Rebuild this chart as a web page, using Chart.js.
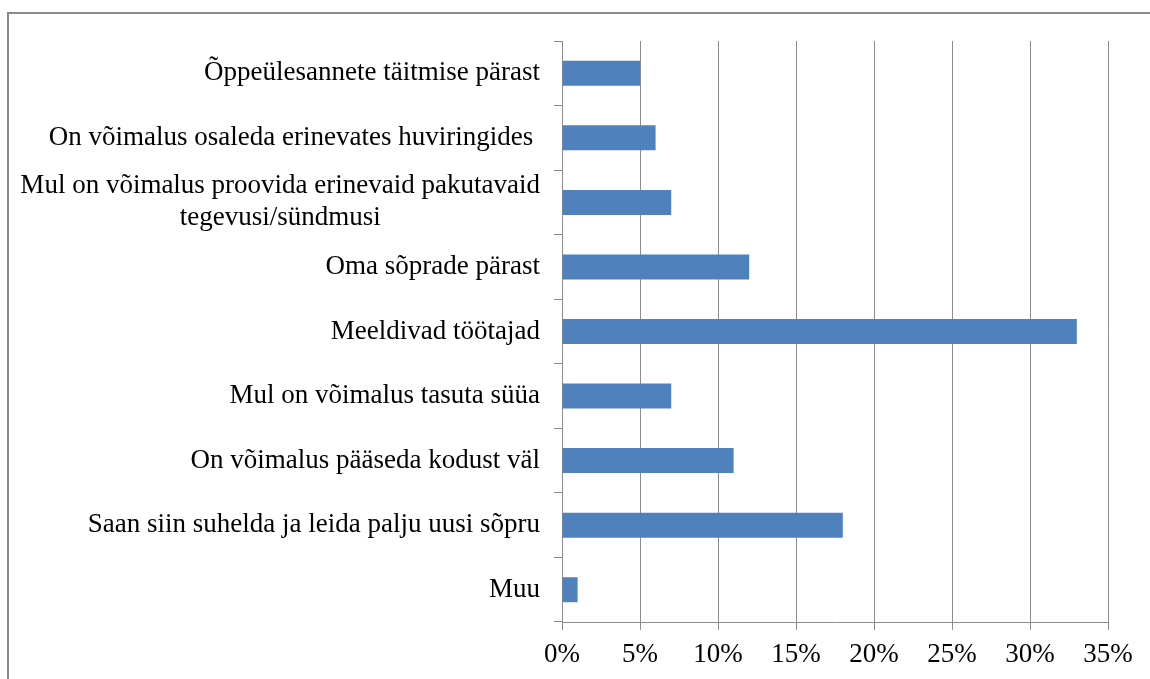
<!DOCTYPE html>
<html>
<head>
<meta charset="utf-8">
<script src="https://cdn.jsdelivr.net/npm/chart.js@4.4.1/dist/chart.umd.min.js"></script>
<style>
  html, body { margin: 0; padding: 0; background: #fff; }
  #wrap { position: relative; width: 1150px; height: 679px; overflow: hidden; }
  #frame { position: absolute; left: 7px; top: 12px; width: 1300px; height: 800px; border: 2px solid #8a8a8a; box-sizing: border-box; pointer-events: none; }
  canvas { position: absolute; left: 0; top: 0; }
</style>
</head>
<body>
<div id="wrap">
  <canvas id="c" width="1150" height="679"></canvas>
  <div id="frame"></div>
</div>
<script>
const categories = [
  "Õppeülesannete täitmise pärast",
  "On võimalus osaleda erinevates huviringides ",
  ["Mul on võimalus proovida erinevaid pakutavaid", "tegevusi/sündmusi"],
  "Oma sõprade pärast",
  "Meeldivad töötajad",
  "Mul on võimalus tasuta süüa",
  "On võimalus pääseda kodust väl",
  "Saan siin suhelda ja leida palju uusi sõpru",
  "Muu"
];
const values = [5, 6, 7, 12, 33, 7, 11, 18, 1];
const xTickValues = [0, 5, 10, 15, 20, 25, 30, 35];

const FONT = '"Liberation Serif", "Times New Roman", serif';
const GRID = '#8c8c8c';

const yLabelPlugin = {
  id: 'yLabels',
  afterDraw(chart) {
    const ctx = chart.ctx;
    const ys = chart.scales.y;
    ctx.save();
    ctx.font = '27px ' + FONT;
    ctx.fillStyle = '#000';
    ctx.textBaseline = 'middle';
    const rightX = ys.right - 22;
    const lh = 32;
    categories.forEach((lab, i) => {
      const lines = Array.isArray(lab) ? lab : [lab];
      const cy = ys.getPixelForTick(i);
      if (lines.length === 1) {
        ctx.textAlign = 'right';
        ctx.fillText(lines[0], rightX, cy);
      } else {
        const maxW = Math.max(...lines.map(l => ctx.measureText(l).width));
        const cx = rightX - maxW / 2;
        ctx.textAlign = 'center';
        lines.forEach((l, j) => {
          ctx.fillText(l, cx, cy + (j - (lines.length - 1) / 2) * lh);
        });
      }
    });
    ctx.restore();
  }
};

new Chart(document.getElementById('c'), {
  type: 'bar',
  data: {
    labels: categories,
    datasets: [{
      data: values,
      backgroundColor: '#4F81BD',
      borderWidth: 0,
      categoryPercentage: 1,
      barPercentage: 0.387
    }]
  },
  options: {
    indexAxis: 'y',
    responsive: false,
    animation: false,
    devicePixelRatio: 1,
    layout: { padding: { top: 41, right: 42, bottom: 0, left: 0 } },
    plugins: { legend: { display: false }, tooltip: { enabled: false } },
    scales: {
      x: {
        min: 0,
        max: 35,
        afterBuildTicks(s) { s.ticks = xTickValues.map(v => ({ value: v })); },
        afterFit(s) { s.height = 57; },
        ticks: {
          callback: v => v + '%',
          color: '#000',
          font: { family: FONT, size: 27 },
          padding: 9,
          maxRotation: 0
        },
        grid: { color: GRID, lineWidth: 1, tickLength: 8, drawTicks: true },
        border: { color: GRID, width: 1 }
      },
      y: {
        afterFit(s) { s.width = 562; },
        ticks: { display: false },
        grid: { drawOnChartArea: false, drawTicks: true, tickLength: 8, color: GRID, lineWidth: 1 },
        border: { color: GRID, width: 1 }
      }
    }
  },
  plugins: [yLabelPlugin]
});
</script>
</body>
</html>
